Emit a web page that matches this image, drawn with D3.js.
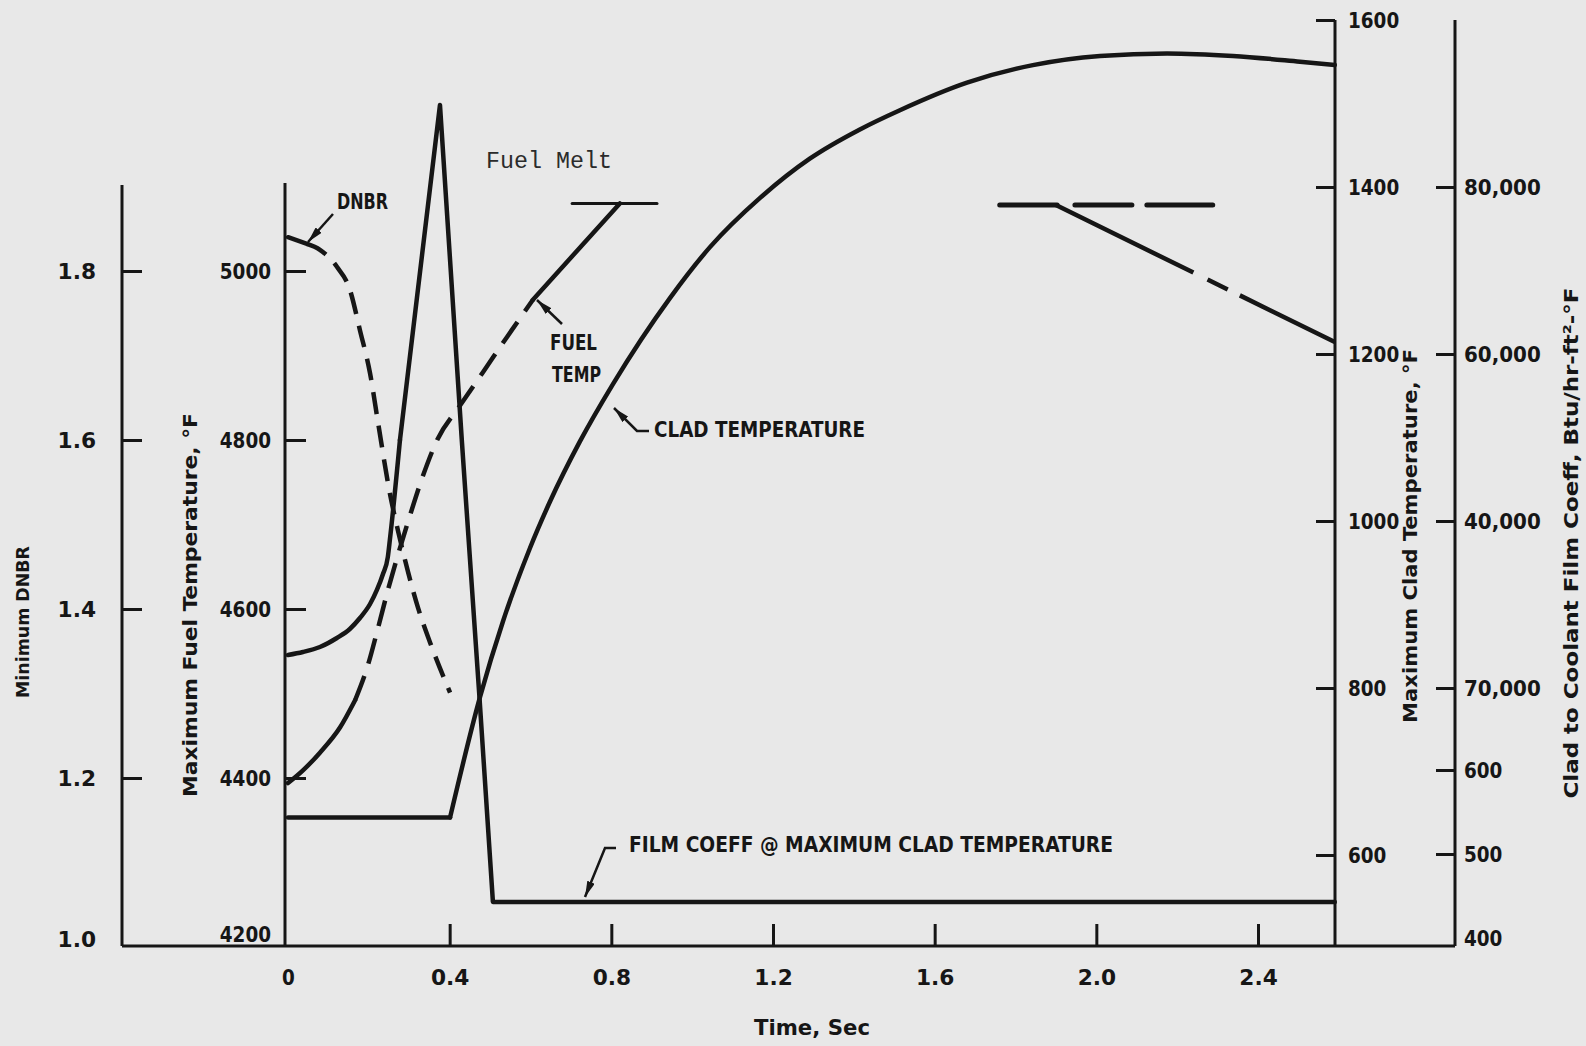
<!DOCTYPE html>
<html>
<head>
<meta charset="utf-8">
<script src="https://cdn.jsdelivr.net/npm/d3@7"></script>
<style>
  html, body { margin: 0; padding: 0; background: #e8e8e8; }
  svg { display: block; }
</style>
</head>
<body>
<svg id="chart" width="1586" height="1046"></svg>
<script>
// ---------------- tick values and labels ----------------
const timeTicks = [0, 0.4, 0.8, 1.2, 1.6, 2.0, 2.4];
const timeTickLabels = ["0", "0.4", "0.8", "1.2", "1.6", "2.0", "2.4"];
const dnbrTicks = [1.0, 1.2, 1.4, 1.6, 1.8];
const dnbrTickLabels = ["1.0", "1.2", "1.4", "1.6", "1.8"];
const fuelTicks = [4200, 4400, 4600, 4800, 5000];
const fuelTickLabels = ["4200", "4400", "4600", "4800", "5000"];
const cladTicks = [600, 800, 1000, 1200, 1400, 1600];
const cladTickLabels = ["600", "800", "1000", "1200", "1400", "1600"];
const filmTicks = [400, 500, 600, 20000, 40000, 60000, 80000];
const filmTickLabels = ["400", "500", "600", "70,000", "40,000", "60,000", "80,000"];

// ---------------- series ----------------
// Minimum DNBR (solid at the start, dashed afterwards)
const dnbrTime  = [0, 0.047, 0.079, 0.121, 0.153, 0.178, 0.203, 0.223, 0.252, 0.272, 0.297, 0.322, 0.351, 0.401];
const dnbrValue = [1.840, 1.832, 1.825, 1.805, 1.778, 1.730, 1.679, 1.620, 1.537, 1.493, 1.444, 1.401, 1.361, 1.301];
const dnbrSolidUntil = 0.047;

// Maximum fuel temperature, °F
const fuelTime  = [0, 0.037, 0.079, 0.129, 0.166, 0.198, 0.223, 0.247, 0.272, 0.302, 0.332, 0.369, 0.426, 0.482, 0.542, 0.606, 0.821];
const fuelValue = [4394, 4409, 4430, 4460, 4492, 4534, 4578, 4622, 4664, 4711, 4755, 4800, 4841, 4880, 4922, 4966, 5080];
const fuelDashedFrom = 0.166;
const fuelDashedTo = 0.606;

// Fuel melt level and the later fuel temperature trace
const fuelMeltTemp = 5080;
const fuelMeltSpan = [0.703, 0.913];
const fuelPlateauTemp = 5078;
const fuelPlateauPieces = [[1.761, 1.903], [1.947, 2.088], [2.125, 2.288]];
const fuelDeclineTime  = [1.90, 2.59];
const fuelDeclineValue = [5078, 4916];
const fuelDeclinePieces = [[1.90, 2.24], [2.275, 2.325], [2.355, 2.59]];

// Maximum clad temperature, °F
const cladTime  = [0, 0.401, 0.475, 0.532, 0.599, 0.648, 0.722, 0.804, 0.945, 1.044, 1.168, 1.291, 1.415, 1.514, 1.680, 1.843, 2.009, 2.175, 2.338, 2.504, 2.590];
const cladValue = [645, 645, 789, 880, 968, 1023, 1095, 1164, 1267, 1328, 1387, 1434, 1469, 1492, 1525, 1546, 1557, 1560, 1557, 1550, 1546];
const cladRiseFrom = 0.401;

// Clad to coolant film coefficient, Btu/hr-ft2-°F
const filmTime  = [0, 0.037, 0.079, 0.121, 0.153, 0.178, 0.203, 0.220, 0.235, 0.247, 0.252, 0.277, 0.376, 0.430, 0.473, 0.507, 2.590];
const filmValue = [23950, 24310, 24910, 25990, 27070, 28380, 30060, 31740, 33650, 35690, 37720, 49700, 89820, 49700, 18820, 443, 443];
const filmSpikeFrom = 0.277;

// ---------------- drawing ----------------
const W = 1586, H = 1046;
const INK = "#161616";
const BOLD = "'Liberation Sans Narrow','Arial Narrow','DejaVu Sans Condensed','Liberation Sans',Arial,sans-serif";
const SERIF = "'Liberation Mono','DejaVu Sans Mono',monospace";

const L = {
  baseY: 946,
  dnbrAxisX: 122, dnbrTop: 185,
  fuelAxisX: 285, fuelTop: 183,
  cladAxisX: 1335, filmAxisX: 1455, rightTop: 20
};

const x = d3.scaleLinear().domain([0, 2.4]).range([288, 1258]);
const yDnbr = d3.scaleLinear().domain([1.0, 1.8]).range([947, 271]);
const yFuel = d3.scaleLinear().domain([4200, 5000]).range([947, 271]);
const yClad = d3.scaleLinear().domain([600, 1600]).range([855, 20]);
const yFilm = d3.scaleLinear().domain(filmTicks).range([938, 854, 770, 688, 521, 354, 187]);

const svg = d3.select("#chart");
svg.append("rect").attr("width", W).attr("height", H).attr("fill", "#e8e8e8");

const defs = svg.append("defs");
defs.append("marker")
  .attr("id", "arrowHead")
  .attr("viewBox", "0 0 16 8")
  .attr("refX", 16).attr("refY", 4)
  .attr("markerWidth", 16).attr("markerHeight", 8)
  .attr("markerUnits", "userSpaceOnUse")
  .attr("orient", "auto")
  .append("path").attr("d", "M0,0 L16,4 L0,8 Z").attr("fill", INK);

// ---- axis lines ----
const axisLines = svg.append("g").attr("stroke", INK).attr("stroke-width", 3).attr("fill", "none");
axisLines.append("line").attr("x1", L.dnbrAxisX).attr("x2", L.filmAxisX).attr("y1", L.baseY).attr("y2", L.baseY);
axisLines.append("line").attr("x1", L.dnbrAxisX).attr("x2", L.dnbrAxisX).attr("y1", L.baseY).attr("y2", L.dnbrTop);
axisLines.append("line").attr("x1", L.fuelAxisX).attr("x2", L.fuelAxisX).attr("y1", L.baseY).attr("y2", L.fuelTop);
axisLines.append("line").attr("x1", L.cladAxisX).attr("x2", L.cladAxisX).attr("y1", L.baseY).attr("y2", L.rightTop);
axisLines.append("line").attr("x1", L.filmAxisX).attr("x2", L.filmAxisX).attr("y1", L.baseY).attr("y2", L.rightTop);

function styleAxis(g, labels, hideTick, liftValue, liftPx) {
  g.select(".domain").remove();
  g.attr("font-family", null).attr("font-size", null);
  g.selectAll(".tick line").attr("stroke", INK).attr("stroke-width", 3)
    .attr("display", (d) => (hideTick && hideTick(d)) ? "none" : null);
  g.selectAll(".tick text")
    .attr("fill", INK)
    .attr("font-family", BOLD)
    .attr("font-weight", "bold")
    .attr("font-size", 22)
    .attr("textLength", (d, i) => labels[i].length * 12.8)
    .attr("lengthAdjust", "spacingAndGlyphs");
  if (liftValue !== undefined) {
    // the lowest label sits just above the base line
    g.selectAll(".tick text").filter(d => d === liftValue).attr("y", -liftPx);
  }
}

svg.append("g").attr("transform", `translate(${L.dnbrAxisX},0)`)
  .call(d3.axisLeft(yDnbr).tickValues(dnbrTicks).tickFormat((d, i) => dnbrTickLabels[i]).tickSize(-20).tickPadding(26))
  .call(g => styleAxis(g, dnbrTickLabels, d => d === 1.0, 1.0, 8));

svg.append("g").attr("transform", `translate(${L.fuelAxisX},0)`)
  .call(d3.axisLeft(yFuel).tickValues(fuelTicks).tickFormat((d, i) => fuelTickLabels[i]).tickSize(-21).tickPadding(14))
  .call(g => styleAxis(g, fuelTickLabels, d => d === 4200, 4200, 13));

svg.append("g").attr("transform", `translate(${L.cladAxisX},0)`)
  .call(d3.axisRight(yClad).tickValues(cladTicks).tickFormat((d, i) => cladTickLabels[i]).tickSize(-19).tickPadding(13))
  .call(g => styleAxis(g, cladTickLabels));

svg.append("g").attr("transform", `translate(${L.filmAxisX},0)`)
  .call(d3.axisRight(yFilm).tickValues(filmTicks).tickFormat((d, i) => filmTickLabels[i]).tickSize(-19).tickPadding(9))
  .call(g => styleAxis(g, filmTickLabels, d => d === 400));

svg.append("g").attr("transform", `translate(0,${L.baseY})`)
  .call(d3.axisBottom(x).tickValues(timeTicks).tickFormat((d, i) => timeTickLabels[i]).tickSize(-22).tickPadding(23))
  .call(g => styleAxis(g, timeTickLabels, d => d === 0));

// ---- series helpers ----
const zip = (ts, vs) => ts.map((t, i) => ({ t, v: vs[i] }));
function drawPath(points, yScale, curve, opts = {}) {
  const gen = d3.line().x(d => x(d.t)).y(d => yScale(d.v)).curve(curve || d3.curveLinear);
  return svg.append("path")
    .attr("d", gen(points))
    .attr("fill", "none")
    .attr("stroke", INK)
    .attr("stroke-width", opts.width || 4.5)
    .attr("stroke-linejoin", "round")
    .attr("stroke-linecap", opts.cap || "round")
    .attr("stroke-dasharray", opts.dash || null);
}

// Film coefficient: smooth rise, then a sharp spike and drop
const film = zip(filmTime, filmValue);
drawPath(film.filter(d => d.t <= filmSpikeFrom), yFilm, d3.curveMonotoneX);
drawPath(film.filter(d => d.t >= filmSpikeFrom), yFilm, d3.curveLinear);

// Clad temperature: flat start, then a smooth rise
const clad = zip(cladTime, cladValue);
drawPath(clad.filter(d => d.t <= cladRiseFrom), yClad, d3.curveLinear);
drawPath(clad.filter(d => d.t >= cladRiseFrom), yClad, d3.curveMonotoneX);

// Fuel temperature: solid, dashed, solid
const fuel = zip(fuelTime, fuelValue);
drawPath(fuel.filter(d => d.t <= fuelDashedFrom), yFuel, d3.curveMonotoneX);
drawPath(fuel.filter(d => d.t >= fuelDashedFrom && d.t <= fuelDashedTo), yFuel, d3.curveMonotoneX, { dash: "26,13", cap: "butt" });
drawPath(fuel.filter(d => d.t >= fuelDashedTo), yFuel, d3.curveLinear);

// Fuel melt level
drawPath([{ t: fuelMeltSpan[0], v: fuelMeltTemp }, { t: fuelMeltSpan[1], v: fuelMeltTemp }], yFuel, d3.curveLinear, { width: 3 });

// Later fuel temperature trace at the melt level
fuelPlateauPieces.forEach(p => {
  drawPath([{ t: p[0], v: fuelPlateauTemp }, { t: p[1], v: fuelPlateauTemp }], yFuel, d3.curveLinear, { width: 5 });
});

// Declining trace: one straight path, broken by a dash pattern derived from the pieces
(function () {
  const pts = zip(fuelDeclineTime, fuelDeclineValue);
  const t0 = fuelDeclineTime[0], t1 = fuelDeclineTime[1];
  const dx = x(t1) - x(t0), dy = yFuel(fuelDeclineValue[1]) - yFuel(fuelDeclineValue[0]);
  const len = Math.hypot(dx, dy);
  const along = t => (t - t0) / (t1 - t0) * len;
  const dash = [];
  fuelDeclinePieces.forEach((p, i) => {
    if (i > 0) dash.push(along(p[0]) - along(fuelDeclinePieces[i - 1][1]));
    dash.push(along(p[1]) - along(p[0]));
  });
  dash.push(len);
  drawPath(pts, yFuel, d3.curveLinear, { width: 4.5, dash: dash.map(v => v.toFixed(1)).join(","), cap: "butt" });
})();

// DNBR: short solid start, dashed afterwards
const dnbr = zip(dnbrTime, dnbrValue);
drawPath(dnbr.filter(d => d.t <= dnbrSolidUntil), yDnbr, d3.curveLinear);
drawPath(dnbr.filter(d => d.t >= dnbrSolidUntil), yDnbr, d3.curveMonotoneX, { dash: "22,12", cap: "butt" });

// ---- annotations ----
function label(txt, px, py, len, size, opts = {}) {
  return svg.append("text")
    .attr("x", px).attr("y", py)
    .attr("dy", "0.35em")
    .attr("fill", opts.fill || INK)
    .attr("font-family", opts.family || BOLD)
    .attr("font-weight", opts.weight || "bold")
    .attr("font-size", size)
    .attr("textLength", len)
    .attr("lengthAdjust", "spacingAndGlyphs")
    .text(txt);
}
function leader(d) {
  svg.append("path").attr("d", d).attr("fill", "none").attr("stroke", INK)
    .attr("stroke-width", 2.5).attr("marker-end", "url(#arrowHead)");
}

label("DNBR", 337, 202, 51, 21);
leader("M333,214 L308,242");

label("Fuel Melt", 486, 160, 126, 24, { family: SERIF, weight: "normal", fill: "#2b2b2b" });

label("FUEL", 550, 343, 47, 21);
label("TEMP", 552, 375, 49, 21);
leader("M562,324 L537,300");

label("CLAD TEMPERATURE", 654, 430, 211, 21);
leader("M649,431 L637,431 L614,408");

label("FILM COEFF @ MAXIMUM CLAD TEMPERATURE", 629, 845, 484, 21);
leader("M616,848 L605,848 L585,897");

label("Time, Sec", 754, 1027, 116, 22);

function vTitle(txt, cx, cy, len, size) {
  svg.append("text")
    .attr("transform", `translate(${cx},${cy}) rotate(-90)`)
    .attr("text-anchor", "middle")
    .attr("dy", "0.35em")
    .attr("fill", INK)
    .attr("font-family", BOLD)
    .attr("font-weight", "bold")
    .attr("font-size", size)
    .attr("textLength", len)
    .attr("lengthAdjust", "spacingAndGlyphs")
    .text(txt);
}
vTitle("Minimum DNBR", 23, 622, 152, 17);
vTitle("Maximum Fuel Temperature, °F", 190, 605, 384, 19);
vTitle("Maximum Clad Temperature, °F", 1410, 536, 374, 19);
vTitle("Clad to Coolant Film Coeff, Btu/hr-ft²-°F", 1571, 543, 511, 20);
</script>
</body>
</html>
